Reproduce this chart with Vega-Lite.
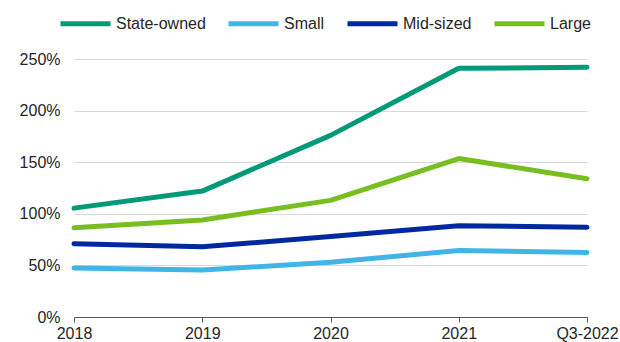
{
  "$schema": "https://vega.github.io/schema/vega-lite/v6.json",
  "width": 513,
  "height": 258,
  "autosize": {"type": "none"},
  "padding": {"left": 74, "right": 33, "top": 59, "bottom": 25},
  "background": "white",
  "config": {
    "view": {"stroke": null},
    "font": "Liberation Sans",
    "axis": {"labelFont": "Liberation Sans", "labelFontSize": 16, "labelColor": "#262626", "titleFontSize": 0}
  },
  "data": {
    "values": [
      {"period": "2018", "type": "State-owned", "value": 105.5},
      {"period": "2019", "type": "State-owned", "value": 122},
      {"period": "2020", "type": "State-owned", "value": 176},
      {"period": "2021", "type": "State-owned", "value": 241},
      {"period": "Q3-2022", "type": "State-owned", "value": 242},
      {"period": "2018", "type": "Small", "value": 47.5},
      {"period": "2019", "type": "Small", "value": 45.5},
      {"period": "2020", "type": "Small", "value": 53},
      {"period": "2021", "type": "Small", "value": 64.5},
      {"period": "Q3-2022", "type": "Small", "value": 62.5},
      {"period": "2018", "type": "Mid-sized", "value": 71},
      {"period": "2019", "type": "Mid-sized", "value": 68},
      {"period": "2020", "type": "Mid-sized", "value": 78},
      {"period": "2021", "type": "Mid-sized", "value": 88.5},
      {"period": "Q3-2022", "type": "Mid-sized", "value": 87},
      {"period": "2018", "type": "Large", "value": 86.5},
      {"period": "2019", "type": "Large", "value": 94},
      {"period": "2020", "type": "Large", "value": 113},
      {"period": "2021", "type": "Large", "value": 153.5},
      {"period": "Q3-2022", "type": "Large", "value": 134}
    ]
  },
  "mark": {"type": "line", "strokeWidth": 5, "strokeCap": "round", "strokeJoin": "round"},
  "encoding": {
    "x": {
      "field": "period", "type": "ordinal", "title": null,
      "scale": {"type": "point", "padding": 0},
      "axis": {"labelAngle": 0, "domainColor": "#595959", "tickColor": "#595959", "tickSize": 5, "labelPadding": 3, "grid": false}
    },
    "y": {
      "field": "value", "type": "quantitative", "title": null,
      "scale": {"domain": [0, 250], "nice": false},
      "axis": {"values": [0, 50, 100, 150, 200, 250], "labelExpr": "datum.value + '%'", "domain": false, "ticks": false, "labelPadding": 14, "gridColor": "#d9d9d9", "gridWidth": 1}
    },
    "color": {
      "field": "type", "type": "nominal", "title": null,
      "scale": {"domain": ["State-owned", "Small", "Mid-sized", "Large"], "range": ["#009a78", "#41b6e6", "#0029a0", "#78be20"]},
      "legend": {
        "orient": "none", "legendX": -16, "legendY": -63, "direction": "horizontal",
        "symbolType": "stroke", "symbolSize": 2500, "symbolStrokeWidth": 5,
        "labelFontSize": 16, "labelFont": "Liberation Sans", "labelColor": "#262626",
        "labelOffset": 3, "columnPadding": 12
      }
    }
  }
}
